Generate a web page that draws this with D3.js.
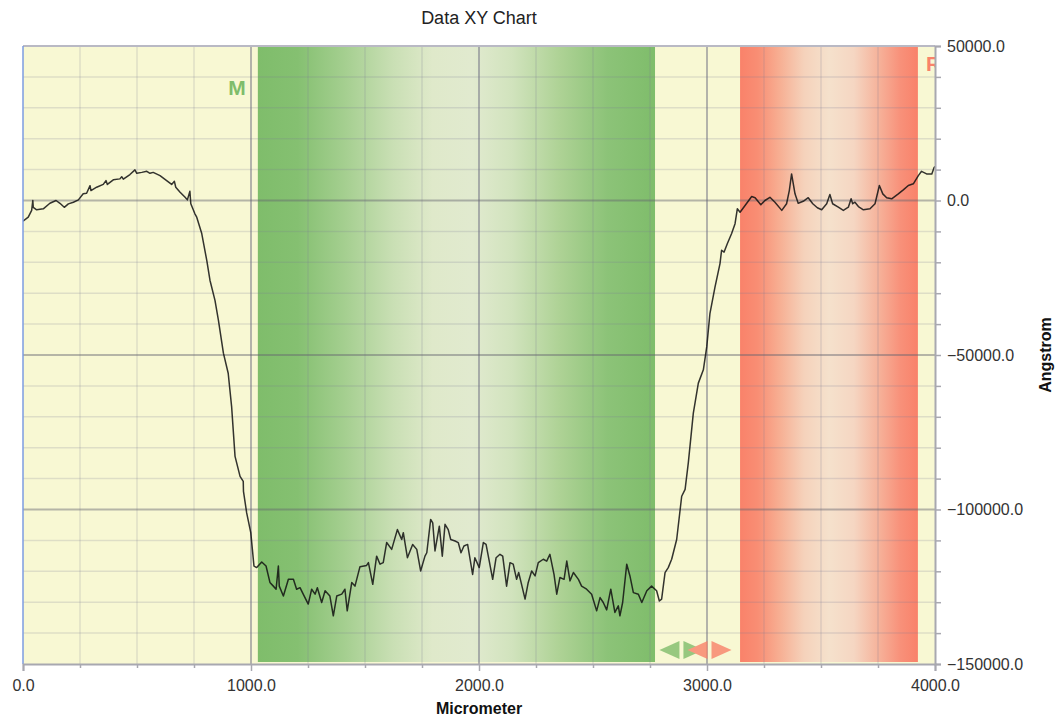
<!DOCTYPE html>
<html>
<head>
<meta charset="utf-8">
<script src="https://cdn.jsdelivr.net/npm/d3@7"></script>
<style>
  body { margin: 0; background: #ffffff; }
  text { font-family: "Liberation Sans", Arial, Helvetica, sans-serif; }
</style>
</head>
<body>
<svg id="chart" width="1062" height="720"></svg>
<script>
// Surface profile: position (micrometer) and height (angstrom)
const profileX = [0, 23, 38, 43, 45, 60, 89, 118, 145, 162, 181, 199, 221, 243, 264, 279, 294, 298, 323, 352, 364, 370, 396, 425, 433, 440, 469, 491, 499, 521, 543, 557, 571, 601, 630, 652, 664, 670, 689, 711, 721, 732, 736, 754, 762, 784, 806, 820, 842, 857, 879, 900, 915, 930, 952, 966, 967, 981, 999, 1013, 1025, 1047, 1066, 1083, 1098, 1110, 1120, 1124, 1142, 1164, 1186, 1200, 1215, 1229, 1251, 1266, 1281, 1291, 1310, 1325, 1346, 1361, 1376, 1398, 1412, 1422, 1442, 1456, 1478, 1507, 1515, 1534, 1551, 1566, 1580, 1595, 1617, 1642, 1661, 1668, 1686, 1709, 1727, 1744, 1763, 1771, 1788, 1797, 1807, 1826, 1839, 1851, 1865, 1876, 1895, 1909, 1921, 1934, 1950, 1972, 1982, 2001, 2019, 2031, 2045, 2060, 2075, 2092, 2104, 2121, 2136, 2150, 2165, 2174, 2183, 2202, 2216, 2231, 2246, 2260, 2282, 2297, 2311, 2329, 2341, 2355, 2373, 2385, 2399, 2414, 2436, 2450, 2472, 2494, 2516, 2531, 2545, 2560, 2578, 2596, 2611, 2618, 2630, 2648, 2662, 2677, 2699, 2714, 2736, 2757, 2779, 2791, 2801, 2816, 2830, 2845, 2867, 2889, 2904, 2918, 2940, 2962, 2984, 2999, 3013, 3035, 3057, 3064, 3075, 3089, 3108, 3123, 3133, 3145, 3167, 3196, 3211, 3236, 3254, 3276, 3298, 3328, 3349, 3361, 3371, 3386, 3400, 3422, 3444, 3464, 3484, 3503, 3525, 3539, 3551, 3576, 3598, 3620, 3632, 3639, 3649, 3664, 3686, 3715, 3737, 3756, 3771, 3788, 3810, 3839, 3861, 3883, 3905, 3927, 3941, 3963, 3986, 3996, 4000];
const profileY = [-6700, -5400, -3200, 0, -2200, -3000, -2700, -900, 0, -900, -2200, -1100, -550, 200, 2200, 2350, 4800, 3200, 4300, 5200, 6450, 5200, 6700, 7000, 7700, 6900, 8400, 9900, 8800, 9100, 9450, 8800, 9100, 8050, 6450, 5200, 6200, 4300, 2700, 1050, 200, 3000, -1050, -4300, -5400, -10700, -19400, -25800, -32300, -38700, -49400, -55900, -66700, -82800, -89300, -90900, -94100, -101100, -107500, -118300, -118800, -117000, -118300, -123600, -124800, -125800, -118300, -124800, -128000, -122600, -122600, -125800, -125300, -127400, -130600, -125800, -127400, -125300, -130100, -126300, -128000, -134400, -128000, -127400, -125800, -132800, -123600, -124800, -118500, -118100, -117200, -124200, -115100, -117700, -117200, -110700, -112900, -106500, -109700, -107500, -115600, -111300, -112900, -119900, -115100, -114000, -103200, -104300, -113400, -105400, -115100, -104800, -106500, -109700, -110200, -110700, -114000, -111800, -111300, -121000, -115600, -118800, -110700, -111300, -116700, -122600, -115600, -114500, -115100, -124800, -117200, -117700, -122600, -120400, -123100, -129000, -123600, -119900, -121500, -117200, -116100, -116700, -114500, -121000, -127400, -122000, -122600, -116700, -123100, -120400, -122600, -124800, -125800, -127400, -132800, -128500, -130100, -132500, -125800, -133300, -131200, -134400, -130100, -117700, -121500, -126900, -127400, -130100, -126300, -124800, -126300, -129600, -129000, -120400, -118800, -116100, -109700, -95700, -93500, -84900, -68800, -59100, -54800, -47300, -36500, -28000, -20400, -16100, -16700, -14000, -10700, -7500, -2700, -3800, -1600, 1300, 900, -1400, 0, 1050, -550, -3200, -1050, 3200, 8600, 2150, -900, -250, 900, -1050, -2350, -3000, -1050, 1950, -1050, -2150, -3200, -2150, 550, -1050, -550, -1950, -3000, -2700, -1050, 4850, 2150, 900, 550, 2150, 3450, 4850, 5400, 8050, 9450, 8600, 8600, 10700, 11000];

// Axis ticks
const xTicks = [0, 1000, 2000, 3000, 4000];
const yTicks = [50000, 0, -50000, -100000, -150000];

// Highlighted ranges (micrometer)
const bandNames = ["M", "R"];
const bandStart = [1030, 3145];
const bandEnd = [2772, 3925];

// Cursor markers (micrometer)
const markerX = [2888, 3011];

const svg = d3.select("#chart");
const plotL = 23, plotR = 935, plotT = 46, plotB = 664;

const x = d3.scaleLinear().domain([0, 4000]).range([plotL, plotR]);
const y = d3.scaleLinear().domain([-150000, 50000]).range([plotB, plotT]);

const green = "#7fbd6b", red = "#f9826a";
const bandColors = [green, red];

const defs = svg.append("defs");
defs.append("clipPath").attr("id", "plotClip")
  .append("rect").attr("x", plotL).attr("y", plotT)
  .attr("width", plotR - plotL).attr("height", plotB - plotT);

const greenStops = [
  [0, "#7fbd6b"], [0.10, "#85c071"], [0.22, "#a5cf90"], [0.34, "#c9dfb4"],
  [0.44, "#dfe9ca"], [0.54, "#e1eacf"], [0.64, "#d1e3bd"], [0.76, "#aed295"],
  [0.88, "#8cc378"], [1, "#7fbd6b"]
];
const redStops = [
  [0, "#f9826a"], [0.10, "#f98e74"], [0.22, "#f7ae92"], [0.36, "#f5d2bb"],
  [0.50, "#f5e1cc"], [0.64, "#f5d6c2"], [0.78, "#f6b29a"], [0.90, "#f8917a"],
  [1, "#f9826a"]
];
[greenStops, redStops].forEach((stops, i) => {
  const g = defs.append("linearGradient").attr("id", "band" + i)
    .attr("x1", 0).attr("x2", 1).attr("y1", 0).attr("y2", 0);
  stops.forEach(s => g.append("stop").attr("offset", s[0]).attr("stop-color", s[1]));
});

// Plot background
svg.append("rect").attr("x", plotL).attr("y", plotT)
  .attr("width", plotR - plotL).attr("height", plotB - plotT)
  .attr("fill", "#f8f8d3");

// Highlighted bands
svg.append("g").selectAll("rect").data(bandStart).join("rect")
  .attr("x", (d) => x(d))
  .attr("y", plotT)
  .attr("width", (d, i) => x(bandEnd[i]) - x(d))
  .attr("height", plotB - plotT - 2)
  .attr("fill", (d, i) => `url(#band${i})`);

// Grid
const grid = svg.append("g");
const minorX = d3.range(0, 4001, 250).filter(v => !xTicks.includes(v));
const minorY = d3.range(-150000, 50001, 10000).filter(v => !yTicks.includes(v));
grid.selectAll(".mx").data(minorX).join("line")
  .attr("x1", d => x(d)).attr("x2", d => x(d)).attr("y1", plotT).attr("y2", plotB)
  .attr("stroke", "rgba(120,120,150,0.2)").attr("stroke-width", 1.5);
grid.selectAll(".my").data(minorY).join("line")
  .attr("x1", plotL).attr("x2", plotR).attr("y1", d => y(d)).attr("y2", d => y(d))
  .attr("stroke", "rgba(120,120,150,0.2)").attr("stroke-width", 1.5);
grid.selectAll(".Mx").data(xTicks.slice(1, -1)).join("line")
  .attr("x1", d => x(d)).attr("x2", d => x(d)).attr("y1", plotT).attr("y2", plotB)
  .attr("stroke", "rgba(110,110,130,0.5)").attr("stroke-width", 2);
grid.selectAll(".My").data(yTicks.slice(1, -1)).join("line")
  .attr("x1", plotL).attr("x2", plotR).attr("y1", d => y(d)).attr("y2", d => y(d))
  .attr("stroke", "rgba(100,100,110,0.45)").attr("stroke-width", 1.8);

// Band labels
svg.append("g").attr("clip-path", "url(#plotClip)")
  .selectAll("text").data(bandNames).join("text")
  .attr("x", (d, i) => i === 0 ? x(bandStart[i]) - 12 : x(bandEnd[i]) + 8)
  .attr("y", (d, i) => i === 0 ? 95 : 71)
  .attr("text-anchor", (d, i) => i === 0 ? "end" : "start")
  .attr("font-size", 21).attr("font-weight", "bold")
  .attr("fill", (d, i) => bandColors[i])
  .text(d => d);

// Profile line
const pts = profileX.map((v, i) => [v, profileY[i]]);
svg.append("path").datum(pts)
  .attr("clip-path", "url(#plotClip)")
  .attr("d", d3.line().x(d => x(d[0])).y(d => y(d[1])))
  .attr("fill", "none").attr("stroke", "#111").attr("stroke-opacity", 0.85)
  .attr("stroke-width", 1.5).attr("stroke-linejoin", "round");

// Cursor markers
const markers = svg.append("g").attr("opacity", 0.8);
const markerY = plotB - 14;
markerX.forEach((mx, i) => {
  const cx = x(mx);
  const col = bandColors[i];
  markers.append("path")
    .attr("d", `M${cx - 22},${markerY} L${cx - 2},${markerY - 9} L${cx - 2},${markerY + 9} Z`)
    .attr("fill", col);
  markers.append("path")
    .attr("d", `M${cx + 22},${markerY} L${cx + 2},${markerY - 9} L${cx + 2},${markerY + 9} Z`)
    .attr("fill", col);
});

// Frame
svg.append("line").attr("x1", plotL).attr("x2", plotR).attr("y1", plotT).attr("y2", plotT)
  .attr("stroke", "#b9b9c4").attr("stroke-width", 2);
svg.append("line").attr("x1", plotL).attr("x2", plotL).attr("y1", plotT).attr("y2", plotB)
  .attr("stroke", "#7d9de0").attr("stroke-width", 1.5);

// Bottom axis
const xAxis = d3.axisBottom(x).tickValues(xTicks).tickFormat(d3.format(".1f"))
  .tickSize(7).tickPadding(9);
const gx = svg.append("g").attr("transform", `translate(0,${plotB})`).call(xAxis);
gx.select(".domain").attr("stroke", "#a8a8b0").attr("stroke-width", 2);
gx.selectAll(".tick line").attr("stroke", "#a8a8b0").attr("stroke-width", 1.5);
gx.selectAll(".tick text").attr("font-size", 16).attr("fill", "#333")
  .attr("font-family", "'Liberation Sans', Arial, sans-serif");
const xMinor = d3.axisBottom(x).tickValues(minorX).tickFormat("").tickSize(4);
const gxm = svg.append("g").attr("transform", `translate(0,${plotB})`).call(xMinor);
gxm.select(".domain").remove();
gxm.selectAll(".tick line").attr("stroke", "#a8a8b0").attr("stroke-width", 1.5);

// Right axis
const yAxis = d3.axisRight(y).tickValues(yTicks).tickFormat(d3.format(".1f"))
  .tickSize(6).tickPadding(6);
const gy = svg.append("g").attr("transform", `translate(${plotR},0)`).call(yAxis);
gy.select(".domain").attr("stroke", "#a8a8b0").attr("stroke-width", 2);
gy.selectAll(".tick line").attr("stroke", "#a8a8b0").attr("stroke-width", 1.5);
gy.selectAll(".tick text").attr("font-size", 16).attr("fill", "#333")
  .attr("font-family", "'Liberation Sans', Arial, sans-serif");
const yMinor = d3.axisRight(y).tickValues(minorY).tickFormat("").tickSize(6);
const gym = svg.append("g").attr("transform", `translate(${plotR},0)`).call(yMinor);
gym.select(".domain").remove();
gym.selectAll(".tick line").attr("stroke", "#a8a8b0").attr("stroke-width", 1.5);

// Titles
svg.append("text").attr("x", (plotL + plotR) / 2).attr("y", 24)
  .attr("text-anchor", "middle").attr("font-size", 18).attr("fill", "#222")
  .text("Data XY Chart");
svg.append("text").attr("x", (plotL + plotR) / 2).attr("y", 714)
  .attr("text-anchor", "middle").attr("font-size", 16).attr("font-weight", "bold")
  .attr("fill", "#111").text("Micrometer");
svg.append("text")
  .attr("transform", `translate(1051,${(plotT + plotB) / 2}) rotate(-90)`)
  .attr("text-anchor", "middle").attr("font-size", 16).attr("font-weight", "bold")
  .attr("fill", "#111").text("Angstrom");
</script>
</body>
</html>
